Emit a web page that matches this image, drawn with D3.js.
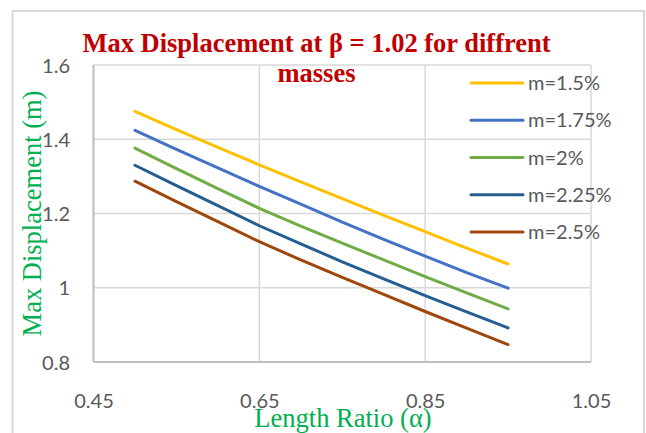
<!DOCTYPE html>
<html>
<head>
<meta charset="utf-8">
<script src="https://cdn.jsdelivr.net/npm/d3@7"></script>
<style>
  html, body { margin: 0; padding: 0; background: #ffffff; }
  svg { display: block; }
</style>
</head>
<body>
<svg id="chart" width="646" height="433"></svg>
<script>
// Length ratio (alpha) sampled along the beam
const alpha = [0.5, 0.55, 0.6, 0.65, 0.7, 0.75, 0.8, 0.85, 0.9, 0.95];

// Maximum displacement (m) for each mass ratio
const m150 = [1.475, 1.426, 1.378, 1.331, 1.285, 1.240, 1.195, 1.151, 1.107, 1.064];
const m175 = [1.424, 1.373, 1.323, 1.273, 1.225, 1.177, 1.130, 1.085, 1.041, 0.999];
const m200 = [1.376, 1.321, 1.267, 1.214, 1.166, 1.120, 1.075, 1.030, 0.986, 0.943];
const m225 = [1.330, 1.275, 1.221, 1.167, 1.118, 1.070, 1.024, 0.979, 0.935, 0.892];
const m250 = [1.287, 1.232, 1.178, 1.124, 1.075, 1.028, 0.982, 0.936, 0.891, 0.847];

const seriesNames = ["m=1.5%", "m=1.75%", "m=2%", "m=2.25%", "m=2.5%"];
const seriesValues = [m150, m175, m200, m225, m250];

const xTicks = [0.45, 0.65, 0.85, 1.05];
const yTicks = [0.8, 1, 1.2, 1.4, 1.6];

const titleLines = ["Max Displacement at \u03B2 = 1.02 for diffrent", "masses"];
const xTitle = "Length Ratio (\u03B1)";
const yTitle = "Max Displacement (m)";

// ---- styling ----
const colors = ["#FFC000", "#4472C4", "#70AD47", "#255E91", "#9E480E"];
const plot = { left: 93.5, right: 591, top: 65, bottom: 362 };
const tickFont = "Lato, 'Liberation Sans', sans-serif";
const serifFont = "'Liberation Serif', 'Times New Roman', serif";

const svg = d3.select("#chart");

// outer chart frame
svg.append("rect")
  .attr("x", 12.5).attr("y", 11)
  .attr("width", 631.5).attr("height", 440)
  .attr("fill", "#ffffff")
  .attr("stroke", "#D9D9D9")
  .attr("stroke-width", 2);

const x = d3.scaleLinear().domain([0.45, 1.05]).range([plot.left, plot.right]);
const y = d3.scaleLinear().domain([0.8, 1.6]).range([plot.bottom, plot.top]);

// gridlines
const grid = svg.append("g");
grid.selectAll("line.h").data(yTicks).join("line")
  .attr("class", "h")
  .attr("x1", plot.left).attr("x2", plot.right)
  .attr("y1", d => y(d)).attr("y2", d => y(d))
  .attr("stroke", "#D9D9D9").attr("stroke-width", 1.5);
grid.selectAll("line.v").data(xTicks).join("line")
  .attr("class", "v")
  .attr("y1", plot.top).attr("y2", plot.bottom)
  .attr("x1", d => x(d)).attr("x2", d => x(d))
  .attr("stroke", "#D9D9D9").attr("stroke-width", 1.5);

// axis lines
svg.append("line")
  .attr("x1", plot.left).attr("x2", plot.left)
  .attr("y1", plot.top).attr("y2", plot.bottom)
  .attr("stroke", "#BFBFBF").attr("stroke-width", 2);
svg.append("line")
  .attr("x1", plot.left).attr("x2", plot.right)
  .attr("y1", plot.bottom).attr("y2", plot.bottom)
  .attr("stroke", "#BFBFBF").attr("stroke-width", 2);

// tick labels
const fmt = d3.format("~g");
const yAxis = svg.append("g")
  .attr("transform", `translate(70,0)`)
  .call(d3.axisLeft(y).tickValues(yTicks).tickFormat(fmt).tickSize(0).tickPadding(0));
yAxis.select(".domain").remove();
yAxis.selectAll("text")
  .attr("font-family", tickFont).attr("font-size", 20)
  .attr("fill", "#595959").attr("dy", "0.35em");

const xAxis = svg.append("g")
  .attr("transform", `translate(0,394)`)
  .call(d3.axisBottom(x).tickValues(xTicks).tickFormat(fmt).tickSize(0).tickPadding(0));
xAxis.select(".domain").remove();
xAxis.selectAll("text")
  .attr("font-family", tickFont).attr("font-size", 20)
  .attr("fill", "#595959").attr("dy", "0.71em");

// data lines
const line = d3.line()
  .x((d, i) => x(alpha[i]))
  .y(d => y(d));

svg.append("g").selectAll("path").data(seriesValues).join("path")
  .attr("d", d => line(d))
  .attr("fill", "none")
  .attr("stroke", (d, i) => colors[i])
  .attr("stroke-width", 3)
  .attr("stroke-linecap", "round")
  .attr("stroke-linejoin", "round");

// legend
const legend = svg.append("g");
const legendY = d3.scalePoint().domain(seriesNames).range([83, 232]);
const item = legend.selectAll("g").data(seriesNames).join("g")
  .attr("transform", d => `translate(0,${legendY(d)})`);
item.append("line")
  .attr("x1", 471).attr("x2", 523)
  .attr("stroke", (d, i) => colors[i])
  .attr("stroke-width", 3)
  .attr("stroke-linecap", "round");
item.append("text")
  .attr("x", 528).attr("dy", "0.36em")
  .attr("font-family", tickFont).attr("font-size", 20)
  .attr("fill", "#595959")
  .text(d => d);

// chart title
svg.append("text")
  .attr("text-anchor", "middle")
  .attr("font-family", serifFont).attr("font-weight", "bold")
  .attr("font-size", 26.5).attr("fill", "#C00000")
  .selectAll("tspan").data(titleLines).join("tspan")
  .attr("x", 316.5)
  .attr("y", (d, i) => 52 + i * 30)
  .text(d => d);

// axis titles
svg.append("text")
  .attr("x", 343).attr("y", 427)
  .attr("text-anchor", "middle")
  .attr("font-family", serifFont).attr("font-size", 26.5)
  .attr("fill", "#00B050")
  .text(xTitle);

svg.append("text")
  .attr("transform", "translate(41,213.5) rotate(-90)")
  .attr("text-anchor", "middle")
  .attr("font-family", serifFont).attr("font-size", 26.5)
  .attr("fill", "#00B050")
  .text(yTitle);
</script>
</body>
</html>
